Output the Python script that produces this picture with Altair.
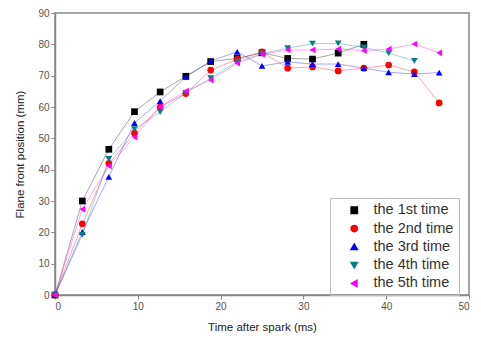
import altair as alt
import pandas as pd

times = [0, 3.3, 6.5, 9.6, 12.7, 15.8, 18.8, 22.0, 25.0, 28.1, 31.1, 34.2, 37.3, 40.3, 43.4, 46.4]
series_names = ["the 1st time", "the 2nd time", "the 3rd time", "the 4th time", "the 5th time"]
s1 = [0, 30, 46.5, 58.5, 64.8, 69.8, 74.5, 75.5, 77.3, 75.5, 75.3, 77.2, 80.0]
s2 = [0, 22.7, 42, 51.7, 60, 64.3, 71.8, 75.2, 77.6, 72.4, 72.8, 71.5, 72.4, 73.4, 71.2, 61.3]
s3 = [0, 20.1, 37.7, 54.9, 61.9, 69.6, 74.7, 77.6, 73.1, 74.4, 73.7, 73.7, 72.4, 71.1, 70.5, 71.0]
s4 = [0, 19.2, 43.4, 52.9, 58.4, 64.5, 69.2, 74.5, 77.0, 78.8, 80.2, 80.3, 79.0, 77.2, 74.7]
s5 = [0, 27.4, 41.2, 50.4, 60.1, 65.1, 68.6, 74.0, 76.8, 78.2, 78.2, 78.5, 78.0, 78.5, 80.1, 77.3]
colors = ["#000000", "#ff0000", "#0000ff", "#008080", "#ff00ff"]
shapes = ["square", "circle", "triangle-up", "triangle-down", "triangle-left"]

rows = []
for name, vals in zip(series_names, [s1, s2, s3, s4, s5]):
    for t, v in zip(times, vals):
        rows.append({"t": t, "v": v, "series": name})
df = pd.DataFrame(rows)

x = alt.X("t:Q", title="Time after spark (ms)",
          scale=alt.Scale(domain=[0, 50], nice=False),
          axis=alt.Axis(values=[0, 10, 20, 30, 40, 50], grid=False))
y = alt.Y("v:Q", title="Flane front position (mm)",
          scale=alt.Scale(domain=[0, 90], nice=False),
          axis=alt.Axis(values=list(range(0, 91, 10)), grid=False))
leg = alt.Legend(title=None, orient="none", legendX=275, legendY=185,
                 strokeColor="#bbbbbb", padding=5,
                 labelFontSize=14.5, labelColor="#333333",
                 symbolSize=40, rowPadding=3.3, symbolOffset=12,
                 labelOffset=12, symbolOpacity=1)
color = alt.Color("series:N", scale=alt.Scale(domain=series_names, range=colors), legend=leg)
shape = alt.Shape("series:N", scale=alt.Scale(domain=series_names, range=shapes), legend=leg)

lines = alt.Chart(df).mark_line(strokeWidth=1, opacity=0.35).encode(
    x=x, y=y, color=color, detail="series:N")
points = alt.Chart(df).mark_point(filled=True, size=45, opacity=1).encode(
    x=x, y=y, color=color, shape=shape)

chart = alt.layer(lines, points).properties(
    width=414, height=282,
    autosize=alt.AutoSizeParams(type="none"),
    padding={"left": 55, "top": 13, "right": 12, "bottom": 44},
    background="white",
).configure_view(stroke="#888888", strokeWidth=1.5).configure_axis(
    labelFont="Liberation Sans", titleFont="Liberation Sans",
    labelFontSize=10, labelColor="#555555", titleFontSize=11.5, titleColor="#222222",
    domainColor="#888888", tickColor="#888888", tickSize=4, domainWidth=1.5,
    titleFontWeight="normal"
).configure_axisX(titlePadding=10).configure_axisY(titlePadding=12).configure_legend(
    labelFont="Liberation Sans")

chart.save("out.html", embed_options={"renderer": "svg", "actions": False})
